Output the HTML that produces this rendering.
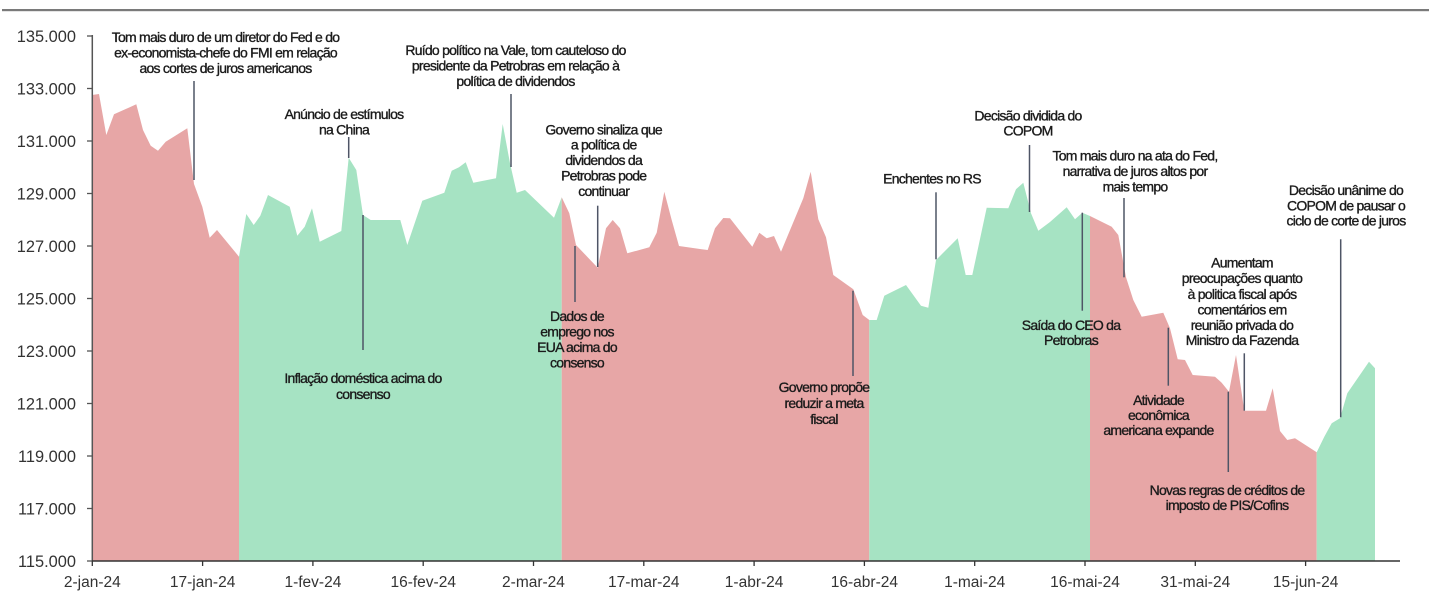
<!DOCTYPE html>
<html>
<head>
<meta charset="utf-8">
<style>
  html,body{margin:0;padding:0;background:#fff;}
  svg{display:block;}
  .ann{font-family:"Liberation Sans",Arial,sans-serif;font-size:14px;letter-spacing:-0.75px;fill:#1b1b1b;stroke:#1b1b1b;stroke-width:0.35px;text-anchor:middle;}
  .yl{font-family:"Liberation Sans",Arial,sans-serif;font-size:16.4px;fill:#333;text-anchor:end;}
  .xl{font-family:"Liberation Sans",Arial,sans-serif;font-size:15.5px;fill:#333;text-anchor:middle;}
  .al{stroke:#4e5566;stroke-width:1.5;}
</style>
</head>
<body>
<svg width="1429" height="603" viewBox="0 0 1429 603" xmlns="http://www.w3.org/2000/svg">
  <!-- top rule -->
  <rect x="2" y="9" width="1427" height="2.2" fill="#7a7a7a"/>

  <!-- series fills -->
  <polygon fill="#E7A6A6" points="92,561 92,95 99,94 106.3,135 114,114.3 136.3,104.3 143,130 150.7,145.7 158,150.7 165.7,141.7 187.3,128.3 194,184 202.3,206.7 209.7,237.7 217,230 239,256.7 239,561"/>
  <polygon fill="#A6E3C3" points="239,561 239,256.7 246.3,214 253.7,225 260.3,215.7 268,195 289.7,206.7 297.3,235.7 304.7,226.7 312,208.3 319.7,241.7 341.3,231 348.7,157.7 356.3,170 363,215 370.7,220 400.3,220 407.3,245 422.3,200.7 444.3,192.7 451.7,170.7 459,167.3 465.7,162.3 473.3,182.7 496,178.3 502.7,124 510,163.3 516.7,192.7 525,190 554,217.7 561.7,197.3 561.7,561"/>
  <polygon fill="#E7A6A6" points="561.7,561 561.7,197.3 569.3,213.3 576,245 597.7,267.7 606,228.3 612.7,220 620,228.3 627.3,253.3 649.3,247.3 656.7,232.7 664.3,191.7 671.7,220 679,246 701.7,249.3 707.7,250 715,228.3 723.3,218 730,218.3 752.3,246.7 759.3,232.7 766.7,238.3 774,236 781,251.7 803.3,198.3 810.7,171.7 818.3,219.3 826,237.3 833.3,275 853.3,289.3 862.7,315 869.3,320 869.3,561"/>
  <polygon fill="#A6E3C3" points="869.3,561 869.3,320 876.7,320 884.3,295.7 906,285 921,305.7 928.3,307.7 936,260 957.7,238.3 965.7,275 972.3,275 986.7,207.7 1008.3,208.3 1016,189.3 1023.3,182.7 1031,213.3 1038.3,230.7 1050,222 1066.7,207.3 1075,219.3 1082.3,212.7 1090,216 1090,561"/>
  <polygon fill="#E7A6A6" points="1090,561 1090,216 1111.7,226.7 1118.3,235 1126,277.3 1133.3,300 1141.7,316.7 1163.3,312.7 1170,328.3 1177.7,359.3 1185,360 1192.7,375 1215,376.7 1221.7,382.7 1229,391.7 1236,355 1244.3,410.7 1266,410.7 1272.7,388.3 1280,431 1287.3,440 1295,438.3 1316.7,452.3 1316.7,561"/>
  <polygon fill="#A6E3C3" points="1316.7,561 1316.7,452.3 1324.3,436.7 1331.7,423.3 1340,418.3 1347.3,393.3 1369,361.7 1375,368.3 1375,561"/>

  <!-- annotation lines -->
  <line class="al" x1="194" y1="81" x2="194" y2="180"/>
  <line class="al" x1="348.7" y1="137" x2="348.7" y2="158"/>
  <line class="al" x1="363" y1="215" x2="363" y2="350"/>
  <line class="al" x1="511" y1="94" x2="511" y2="167"/>
  <line class="al" x1="597.7" y1="205.7" x2="597.7" y2="267"/>
  <line class="al" x1="575" y1="246" x2="575" y2="302"/>
  <line class="al" x1="853" y1="290.7" x2="853" y2="376"/>
  <line class="al" x1="936" y1="192.3" x2="936" y2="259.3"/>
  <line class="al" x1="1029.5" y1="145" x2="1029.5" y2="212"/>
  <line class="al" x1="1124" y1="198" x2="1124" y2="277.3"/>
  <line class="al" x1="1082.3" y1="212.7" x2="1082.3" y2="310.7"/>
  <line class="al" x1="1168.3" y1="327.7" x2="1168.3" y2="385.7"/>
  <line class="al" x1="1228.3" y1="391.7" x2="1228.3" y2="472"/>
  <line class="al" x1="1244.3" y1="353.3" x2="1244.3" y2="410.7"/>
  <line class="al" x1="1340.7" y1="239.3" x2="1340.7" y2="417.3"/>

  <!-- axes -->
  <line x1="92.3" y1="35" x2="92.3" y2="561" stroke="#555" stroke-width="1.5"/>
  <line x1="92" y1="561" x2="1400" y2="561" stroke="#333" stroke-width="1.6"/>
  <g stroke="#555" stroke-width="1.3">
    <line x1="87" y1="36" x2="92" y2="36"/>
    <line x1="87" y1="88.5" x2="92" y2="88.5"/>
    <line x1="87" y1="141" x2="92" y2="141"/>
    <line x1="87" y1="193.5" x2="92" y2="193.5"/>
    <line x1="87" y1="246" x2="92" y2="246"/>
    <line x1="87" y1="298.5" x2="92" y2="298.5"/>
    <line x1="87" y1="351" x2="92" y2="351"/>
    <line x1="87" y1="403.5" x2="92" y2="403.5"/>
    <line x1="87" y1="456" x2="92" y2="456"/>
    <line x1="87" y1="508.5" x2="92" y2="508.5"/>
    <line x1="87" y1="561" x2="92" y2="561"/>
  </g>
  <g stroke="#333" stroke-width="1.3">
    <line x1="92.3" y1="561" x2="92.3" y2="566"/>
    <line x1="202.6" y1="561" x2="202.6" y2="566"/>
    <line x1="312.9" y1="561" x2="312.9" y2="566"/>
    <line x1="423.2" y1="561" x2="423.2" y2="566"/>
    <line x1="533.5" y1="561" x2="533.5" y2="566"/>
    <line x1="643.8" y1="561" x2="643.8" y2="566"/>
    <line x1="754.1" y1="561" x2="754.1" y2="566"/>
    <line x1="864.4" y1="561" x2="864.4" y2="566"/>
    <line x1="974.7" y1="561" x2="974.7" y2="566"/>
    <line x1="1085" y1="561" x2="1085" y2="566"/>
    <line x1="1195.3" y1="561" x2="1195.3" y2="566"/>
    <line x1="1305.6" y1="561" x2="1305.6" y2="566"/>
  </g>

  <!-- y labels -->
  <text class="yl" x="76" y="42">135.000</text>
  <text class="yl" x="76" y="94.5">133.000</text>
  <text class="yl" x="76" y="147">131.000</text>
  <text class="yl" x="76" y="199.5">129.000</text>
  <text class="yl" x="76" y="252">127.000</text>
  <text class="yl" x="76" y="304.5">125.000</text>
  <text class="yl" x="76" y="357">123.000</text>
  <text class="yl" x="76" y="409.5">121.000</text>
  <text class="yl" x="76" y="462">119.000</text>
  <text class="yl" x="76" y="514.5">117.000</text>
  <text class="yl" x="76" y="567">115.000</text>

  <!-- x labels -->
  <text class="xl" x="92.3" y="587">2-jan-24</text>
  <text class="xl" x="202.6" y="587">17-jan-24</text>
  <text class="xl" x="312.9" y="587">1-fev-24</text>
  <text class="xl" x="423.2" y="587">16-fev-24</text>
  <text class="xl" x="533.5" y="587">2-mar-24</text>
  <text class="xl" x="643.8" y="587">17-mar-24</text>
  <text class="xl" x="754.1" y="587">1-abr-24</text>
  <text class="xl" x="864.4" y="587">16-abr-24</text>
  <text class="xl" x="974.7" y="587">1-mai-24</text>
  <text class="xl" x="1085" y="587">16-mai-24</text>
  <text class="xl" x="1195.3" y="587">31-mai-24</text>
  <text class="xl" x="1305.6" y="587">15-jun-24</text>

  <!-- annotations -->
  <text class="ann" x="225.5" y="42">Tom mais duro de um diretor do Fed e do</text>
  <text class="ann" x="225.5" y="57.5">ex-economista-chefe do FMI em relação</text>
  <text class="ann" x="225.5" y="73">aos cortes de juros americanos</text>

  <text class="ann" x="344" y="119">Anúncio de estímulos</text>
  <text class="ann" x="344" y="134.3">na China</text>

  <text class="ann" x="363" y="383">Inflação doméstica acima do</text>
  <text class="ann" x="363" y="399">consenso</text>

  <text class="ann" x="515.5" y="55">Ruído político na Vale, tom cauteloso do</text>
  <text class="ann" x="515.5" y="70.7">presidente da Petrobras em relação à</text>
  <text class="ann" x="515.5" y="86">política de dividendos</text>

  <text class="ann" x="603.7" y="134.3">Governo sinaliza que</text>
  <text class="ann" x="603.7" y="149.6">a política de</text>
  <text class="ann" x="603.7" y="165">dividendos da</text>
  <text class="ann" x="603.7" y="180.5">Petrobras pode</text>
  <text class="ann" x="603.7" y="196">continuar</text>

  <text class="ann" x="577" y="321">Dados de</text>
  <text class="ann" x="577" y="336.5">emprego nos</text>
  <text class="ann" x="577" y="352">EUA acima do</text>
  <text class="ann" x="577" y="367.5">consenso</text>

  <text class="ann" x="824" y="392">Governo propõe</text>
  <text class="ann" x="824" y="408">reduzir a meta</text>
  <text class="ann" x="824" y="424">fiscal</text>

  <text class="ann" x="932" y="183.3">Enchentes no RS</text>

  <text class="ann" x="1028" y="120.3">Decisão dividida do</text>
  <text class="ann" x="1028" y="135.7">COPOM</text>

  <text class="ann" x="1135" y="160.7">Tom mais duro na ata do Fed,</text>
  <text class="ann" x="1135" y="176">narrativa de juros altos por</text>
  <text class="ann" x="1135" y="191.7">mais tempo</text>

  <text class="ann" x="1071" y="330">Saída do CEO da</text>
  <text class="ann" x="1071" y="345">Petrobras</text>

  <text class="ann" x="1158.5" y="405">Atividade</text>
  <text class="ann" x="1158.5" y="420">econômica</text>
  <text class="ann" x="1158.5" y="435">americana expande</text>

  <text class="ann" x="1227" y="495">Novas regras de créditos de</text>
  <text class="ann" x="1227" y="510">imposto de PIS/Cofins</text>

  <text class="ann" x="1242" y="267.7">Aumentam</text>
  <text class="ann" x="1242" y="283">preocupações quanto</text>
  <text class="ann" x="1242" y="299">à politica fiscal após</text>
  <text class="ann" x="1242" y="314.3">comentários em</text>
  <text class="ann" x="1242" y="330">reunião privada do</text>
  <text class="ann" x="1242" y="345">Ministro da Fazenda</text>

  <text class="ann" x="1346" y="195">Decisão unânime do</text>
  <text class="ann" x="1346" y="210.3">COPOM de pausar o</text>
  <text class="ann" x="1346" y="225.7">ciclo de corte de juros</text>
</svg>
</body>
</html>
